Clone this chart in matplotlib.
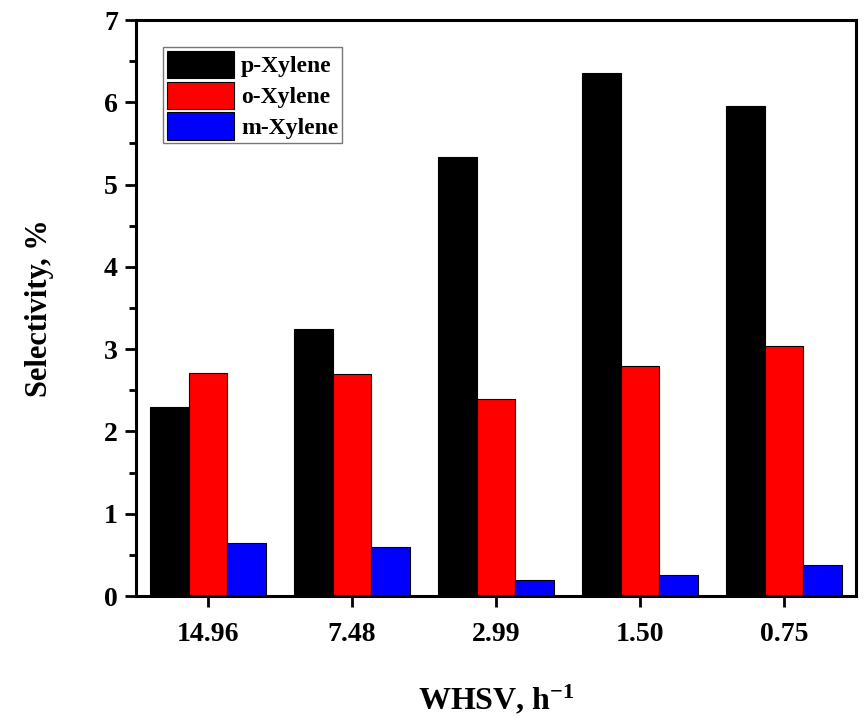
import numpy as np
import matplotlib.pyplot as plt
from matplotlib.ticker import MultipleLocator

# ===================== DATA =====================
whsv_labels = ['14.96', '7.48', '2.99', '1.50', '0.75']
p_xylene = [2.30, 3.25, 5.33, 6.35, 5.95]
o_xylene = [2.71, 2.70, 2.39, 2.79, 3.04]
m_xylene = [0.65, 0.59, 0.20, 0.25, 0.38]

series = [
    ('p-Xylene', p_xylene, 'black'),
    ('o-Xylene', o_xylene, '#ff0000'),
    ('m-Xylene', m_xylene, '#0000ff'),
]

# ===================== PLOT =====================
plt.rcParams['font.family'] = ['Liberation Serif', 'DejaVu Serif']
plt.rcParams['font.weight'] = 'bold'
plt.rcParams['mathtext.fontset'] = 'custom'
plt.rcParams['mathtext.rm'] = 'Liberation Serif:bold'
plt.rcParams['mathtext.bf'] = 'Liberation Serif:bold'
plt.rcParams['mathtext.default'] = 'rm'

fig = plt.figure(figsize=(8.65, 7.21), dpi=100)
ax = fig.add_axes([136 / 865, 1 - 596 / 721, 720 / 865, 576 / 721])

x = np.arange(len(whsv_labels))
w = 0.268
for i, (name, vals, col) in enumerate(series):
    ax.bar(x + (i - 1) * w, vals, w, color=col, edgecolor='black',
           linewidth=0.8, label=name)

ax.set_xlim(-0.5, len(whsv_labels) - 0.5)
ax.set_ylim(0, 7)
ax.set_xticks(x)
ax.set_xticklabels(whsv_labels)
ax.yaxis.set_major_locator(MultipleLocator(1))
ax.yaxis.set_minor_locator(MultipleLocator(0.5))

for s in ax.spines.values():
    s.set_linewidth(2.2)

ax.tick_params(axis='both', which='major', direction='out', length=8,
               width=2, labelsize=20)
ax.tick_params(axis='y', which='minor', direction='out', length=5, width=2)
ax.tick_params(axis='x', pad=11)
ax.tick_params(axis='y', pad=5)
for lab in ax.get_xticklabels() + ax.get_yticklabels():
    lab.set_fontweight('bold')

ax.set_xlabel('WHSV, h$^{-1}$', fontsize=23, fontweight='bold', labelpad=26)
ax.set_ylabel('Selectivity, %', fontsize=22, fontweight='bold', labelpad=36)

leg = ax.legend(loc='upper left', fontsize=17, frameon=True, fancybox=False,
                handlelength=2.85, handleheight=1.4, labelspacing=0.15,
                borderpad=0.15, handletextpad=0.3, borderaxespad=1.15)
leg.get_frame().set_edgecolor('#555555')
leg.get_frame().set_linewidth(1.0)
for t in leg.get_texts():
    t.set_fontweight('bold')

fig.savefig('out.png', dpi=100)
